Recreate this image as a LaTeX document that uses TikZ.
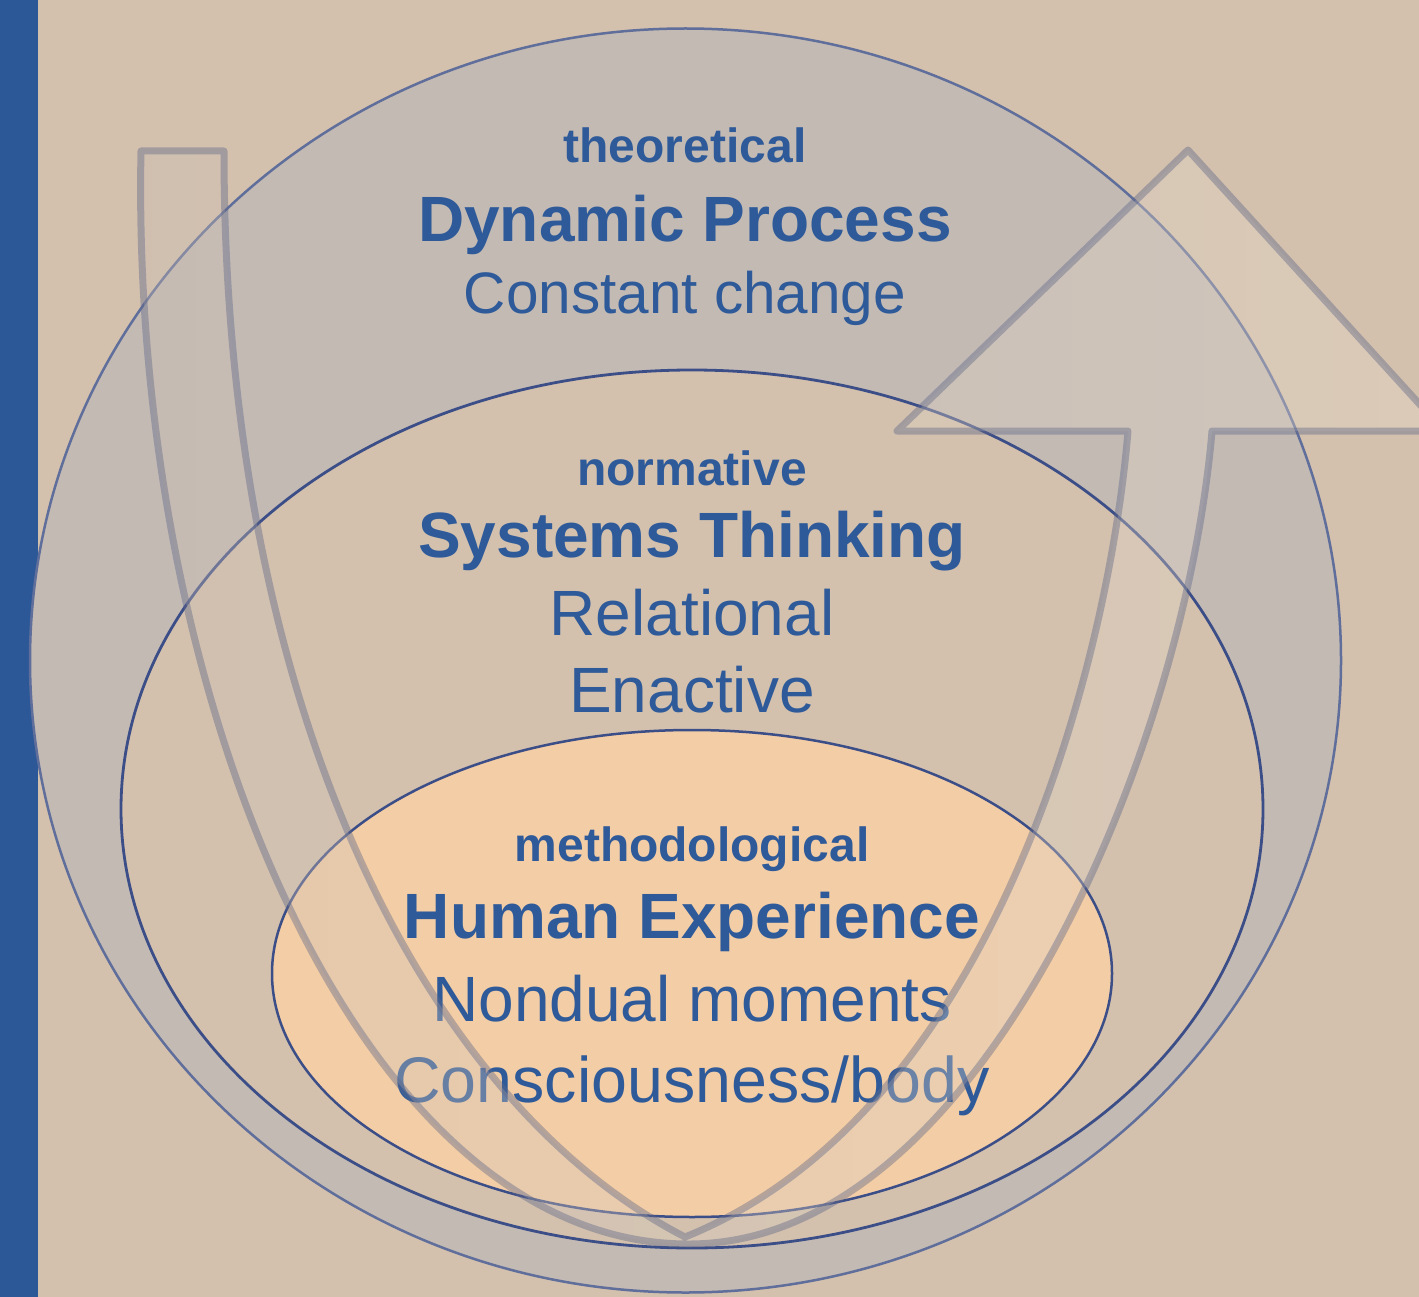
\documentclass[tikz,border=0pt]{standalone}
\usepackage{fontspec}
\setmainfont{Liberation Sans}
\definecolor{bgtan}{HTML}{D3C1AE}
\definecolor{barblue}{HTML}{2D5897}
\definecolor{circfill}{HTML}{C3BAB4}
\definecolor{circline}{HTML}{5F6E9A}
\definecolor{ellline}{HTML}{3C4E87}
\definecolor{orangefill}{HTML}{F3CDA6}
\definecolor{txtblue}{HTML}{2E5A99}
\definecolor{arrowline}{HTML}{606888}
\definecolor{arrowleft}{HTML}{CCBEB2}
\definecolor{arrowright}{HTML}{EADCCB}
\begin{document}
\begin{tikzpicture}[x=1pt,y=-1pt,
  lvl/.style={font=\bfseries\fontsize{48}{48}\selectfont, text=txtblue, anchor=base, inner sep=0pt},
  ttl/.style={font=\bfseries\fontsize{64}{64}\selectfont, text=txtblue, anchor=base, inner sep=0pt},
  dsc/.style={font=\fontsize{64}{64}\selectfont, text=txtblue, anchor=base, inner sep=0pt},
  ring/.style={line width=2.5pt},
  bigarrow/.style={left color=arrowleft, right color=arrowright, fill opacity=0.35,
    draw=arrowline, draw opacity=0.42, line width=7pt, line join=round}]
\useasboundingbox (0,0) rectangle (1419,1297);
\clip (0,0) rectangle (1419,1297);
\fill[bgtan] (0,0) rectangle (1419,1297);
\fill[barblue] (0,0) rectangle (38,1297);
% nested ellipses
\draw[ring, fill=circfill, draw=circline] (685.5,660.5) ellipse [x radius=655.5, y radius=632];
\draw[ring, line width=2.8pt, fill=bgtan, draw=ellline] (692,809) ellipse [x radius=571, y radius=439];
\draw[ring, fill=orangefill, draw=ellline] (692,973.5) ellipse [x radius=420, y radius=243.5];
% texts
\node[lvl] (theo) at (685,163) {theoretical};
\node[ttl] (dyn) at (685,242) {Dynamic Process};
\node[dsc, font=\fontsize{58.5}{58.5}\selectfont] (const) at (685,314) {Constant change};
\node[lvl] (norm) at (692,485) {normative};
\node[ttl] (sys) at (692,557) {Systems Thinking};
\node[dsc] (rel) at (692,635) {Relational};
\node[dsc] (ena) at (692,712) {Enactive};
\node[lvl] (meth) at (692,861) {methodological};
\node[ttl] (hum) at (692,938) {Human Experience};
\node[dsc] (nond) at (692,1021) {Nondual moments};
\node[dsc, font=\fontsize{64.5}{64.5}\selectfont] (cons) at (692,1102) {Consciousness/body};
% U-shaped arrow
\path[bigarrow] (141,151) -- (224,151)
  .. controls (224,700) and (420,1100) .. (685,1237)
  .. controls (1000,1110) and (1110,650) .. (1128,431)
  -- (897,431) -- (1188,150) -- (1444,431) -- (1212,431)
  .. controls (1185,750) and (980,1245) .. (688,1244)
  .. controls (360,1244) and (130,700) .. (141,151) -- cycle;
\end{tikzpicture}
\end{document}
